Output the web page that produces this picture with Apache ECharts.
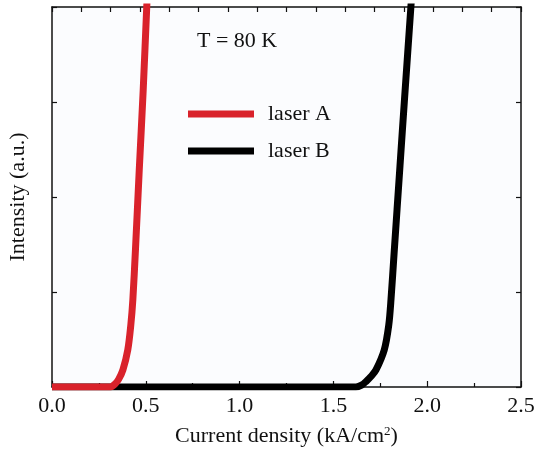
<!DOCTYPE html>
<html>
<head>
<meta charset="utf-8">
<script src="https://cdn.jsdelivr.net/npm/echarts@6/dist/echarts.min.js"></script>
<style>
html,body{margin:0;padding:0;background:#fff;}
#c{width:534px;height:449px;}
</style>
</head>
<body>
<div id="c"></div>
<script>
// Data (x: current density kA/cm², y: intensity a.u., axis 0..4)
var xTicks = [0.0, 0.5, 1.0, 1.5, 2.0, 2.5];
var laserA_x = [0, 0.31, 0.335, 0.355, 0.378, 0.404, 0.42, 0.431, 0.445, 0.465, 0.486, 0.505, 0.512];
var laserA_y = [0, 0, 0.03, 0.08, 0.18, 0.39, 0.65, 0.92, 1.45, 2.28, 3.12, 4.00, 4.30];
var laserB_x = [0, 1.62, 1.65, 1.675, 1.70, 1.727, 1.771, 1.795, 1.807, 1.824, 1.855, 1.878, 1.913, 1.92];
var laserB_y = [0, 0, 0.02, 0.06, 0.11, 0.18, 0.39, 0.65, 0.92, 1.42, 2.33, 3.00, 4.00, 4.20];
var seriesNames = ['laser A', 'laser B'];
var annotation = 'T = 80 K';

function pairs(xs, ys){ return xs.map(function(x,i){ return [x, ys[i]]; }); }

var font = 'Liberation Serif, Times New Roman, serif';
var chart = echarts.init(document.getElementById('c'));
var axisLine = {show:true, onZero:false, lineStyle:{color:'#111', width:1.5}};
var tick = {inside:true, length:5, lineStyle:{color:'#111', width:1.2}};
chart.setOption({
  animation:false,
  backgroundColor:'#ffffff',
  grid:{left:52, right:13, top:7, bottom:62, show:true, backgroundColor:'#fbfcfe', borderWidth:0,
        containLabel:false, outerBoundsMode:'none'},
  legend:{
    data:seriesNames, orient:'vertical', left:188, top:103, padding:0,
    itemWidth:66, itemHeight:7, itemGap:15, icon:'rect',
    textStyle:{fontFamily:font, fontSize:22, color:'#111', padding:[0,0,0,9]}
  },
  graphic:[{type:'text', left:197, top:30, style:{text:annotation, font:'22px ' + font, fill:'#111'}}],
  xAxis:[{
    type:'value', position:'bottom', min:0, max:2.5, interval:0.5,
    axisLine:axisLine,
    axisTick:{inside:true, length:6, lineStyle:{color:'#111', width:1.2}},
    minorTick:{show:true, splitNumber:2, length:4, lineStyle:{color:'#111', width:1.2}},
    splitLine:{show:false},
    axisLabel:{fontFamily:font, fontSize:22, color:'#111', margin:8, formatter:function(v){return v.toFixed(1);}},
    name:'Current density (kA/cm{sup|2})', nameLocation:'middle', nameGap:38,
    nameTextStyle:{fontFamily:font, fontSize:22, color:'#111', rich:{sup:{fontFamily:font, fontSize:13, color:'#111', verticalAlign:'top', padding:[0,0,10,0]}}}
  },{
    type:'value', position:'top', min:0, max:16, interval:1,
    axisLine:axisLine, axisTick:tick,
    axisLabel:{show:false}, splitLine:{show:false}
  }],
  yAxis:[{
    type:'value', position:'left', min:0, max:4, interval:1,
    axisLine:axisLine, axisTick:tick,
    axisLabel:{show:false}, splitLine:{show:false},
    name:'Intensity (a.u.)', nameLocation:'middle', nameGap:23,
    nameTextStyle:{fontFamily:font, fontSize:22, color:'#111'}
  },{
    type:'value', position:'right', min:0, max:4, interval:1,
    axisLine:axisLine, axisTick:tick,
    axisLabel:{show:false}, splitLine:{show:false}
  }],
  series:[{
    name:seriesNames[1], type:'line', data:pairs(laserB_x, laserB_y), showSymbol:false,
    smooth:0.3, itemStyle:{color:'#000'}, lineStyle:{color:'#000', width:7, join:'round', cap:'butt'}, z:2
  },{
    name:seriesNames[0], type:'line', data:pairs(laserA_x, laserA_y), showSymbol:false,
    smooth:0.3, itemStyle:{color:'#d9222b'}, lineStyle:{color:'#d9222b', width:7, join:'round', cap:'butt'}, z:3
  }]
});
</script>
</body>
</html>
